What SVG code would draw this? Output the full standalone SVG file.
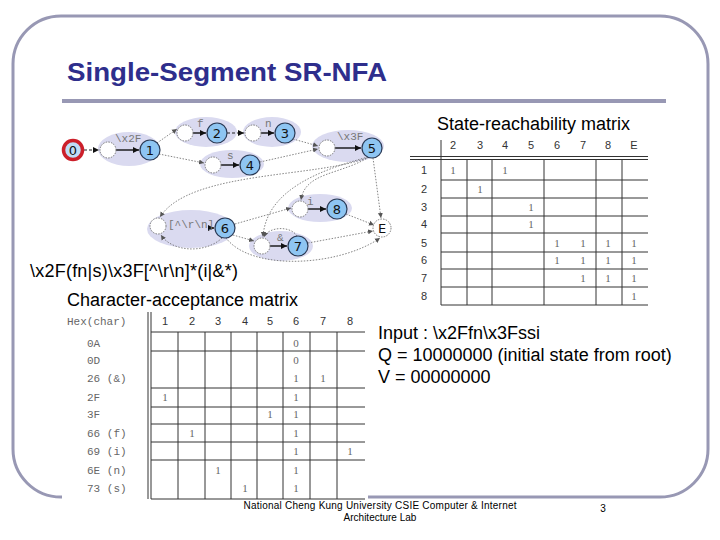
<svg xmlns="http://www.w3.org/2000/svg" width="720" height="540" viewBox="0 0 720 540">
<style>
.frame{fill:none;stroke:#9898B4;stroke-width:3}
.title{font-family:"Liberation Sans",Arial,sans-serif;font-weight:bold;font-size:26px;fill:#2E2E8C}
.body{font-family:"Liberation Sans",Arial,sans-serif;font-size:18px;fill:#000}
.foot{font-family:"Liberation Sans",Arial,sans-serif;font-size:10px;fill:#000}
.grp{fill:#DADAF0}
.st{fill:#8EC5F2;stroke:#2A3A55;stroke-width:1.2}
.em{fill:#fff;stroke:#777;stroke-width:1;stroke-dasharray:1.5 1.2}
.nl{font-family:"DejaVu Sans","Liberation Sans",sans-serif;font-size:13px;fill:#111;text-anchor:middle}
.el{font-family:"Liberation Mono","DejaVu Sans Mono",monospace;font-size:11px;fill:#777}
.ed{fill:none;stroke:#666;stroke-width:0.8;stroke-dasharray:1.5 1.5;marker-end:url(#ah)}
.sd{fill:none;stroke:#111;stroke-width:1.4;marker-end:url(#as)}
.dd{fill:none;stroke:#222;stroke-width:1;stroke-dasharray:3 2;marker-end:url(#as)}
.gl{stroke:#333;stroke-width:1;fill:none}
.th{font-family:"Liberation Sans",Arial,sans-serif;font-size:11px;fill:#333;text-anchor:middle}
.tv{font-family:"Liberation Serif",serif;font-size:11px;fill:#666;text-anchor:middle}
.ml{font-family:"Liberation Mono","DejaVu Sans Mono",monospace;font-size:11px;fill:#666}
</style>
<defs>
<marker id="ah" markerWidth="6" markerHeight="6" refX="5" refY="3" orient="auto" markerUnits="userSpaceOnUse"><path d="M0,0.5 L5,3 L0,5.5 Z" fill="#555"/></marker>
<marker id="as" markerWidth="7" markerHeight="7" refX="6" refY="3.5" orient="auto" markerUnits="userSpaceOnUse"><path d="M0,0.5 L6,3.5 L0,6.5 Z" fill="#111"/></marker>
</defs>
<rect width="720" height="540" fill="#fff"/>
<rect class="frame" x="13" y="16" width="695" height="481" rx="48" ry="48"/>
<text class="title" x="67" y="81" textLength="320" lengthAdjust="spacingAndGlyphs">Single-Segment SR-NFA</text>
<rect x="62" y="99" width="604" height="4" fill="#9898B4"/>

<!-- NFA -->
<g id="groups">
<ellipse class="grp" cx="129" cy="149" rx="31" ry="17"/>
<ellipse class="grp" cx="206" cy="132" rx="31" ry="15"/>
<ellipse class="grp" cx="272" cy="132" rx="29" ry="15"/>
<ellipse class="grp" cx="232" cy="164" rx="32" ry="14"/>
<ellipse class="grp" cx="348" cy="146" rx="36" ry="16"/>
<ellipse class="grp" cx="191" cy="229" rx="44" ry="19"/>
<ellipse class="grp" cx="320" cy="208" rx="32" ry="14"/>
<ellipse class="grp" cx="281" cy="246" rx="32" ry="15"/>
</g>
<g id="connectors">
<path class="dd" d="M84,150 L99,150"/>
<path class="sd" d="M116,150 L139,150"/>
<path class="ed" d="M157,143 L177,129"/>
<path class="sd" d="M193,133 L206,133"/>
<path class="dd" d="M227,133 L244,133"/>
<path class="sd" d="M261,133 L274,133"/>
<path class="ed" d="M159,154 L204,163"/>
<path class="sd" d="M221,165 L239,165"/>
<path class="ed" d="M293,139 L318,146"/>
<path class="ed" d="M260,162 L318,149"/>
<path class="sd" d="M335,148 L361,148"/>
<path class="ed" d="M373,158 L381,218"/>
<path class="ed" d="M369,157 C320,178 190,170 160,217"/>
<path class="ed" d="M369,157 C340,175 305,172 301,200"/>
<path class="ed" d="M368,157 C320,170 266,190 263,237"/>
<path class="sd" d="M208,228 L214,228"/>
<path class="ed" d="M222,238 C205,254 172,252 161,235"/>
<path class="ed" d="M235,224 L291,208"/>
<path class="ed" d="M233,235 L254,241"/>
<path class="ed" d="M226,238 C252,272 340,266 380,238"/>
<path class="ed" d="M297,236 C290,225 268,227 264,237"/>
<path class="sd" d="M270,246 L287,246"/>
<path class="sd" d="M308,209 L326,209"/>
<path class="ed" d="M346,214 L374,225"/>
<path class="ed" d="M308,243 L373,231"/>
</g>
<g id="n0"><circle cx="73" cy="150" r="9.5" fill="#BFDDF7" stroke="#CC1F2A" stroke-width="3.5"/><text class="nl" x="73" y="154.5">0</text></g>
<g id="e1"><circle class="em" cx="108" cy="150" r="8"/></g>
<g id="n1"><circle class="st" cx="150" cy="150" r="10"/><text class="nl" x="150" y="154.5">1</text></g>
<g id="e2"><circle class="em" cx="185" cy="133" r="8"/></g>
<g id="n2"><circle class="st" cx="217" cy="133" r="10"/><text class="nl" x="217" y="137.5">2</text></g>
<g id="e3"><circle class="em" cx="253" cy="133" r="8"/></g>
<g id="n3"><circle class="st" cx="285" cy="133" r="10"/><text class="nl" x="285" y="137.5">3</text></g>
<g id="e4"><circle class="em" cx="213" cy="165" r="8"/></g>
<g id="n4"><circle class="st" cx="250" cy="165" r="10"/><text class="nl" x="250" y="169.5">4</text></g>
<g id="e5"><circle class="em" cx="327" cy="148" r="8"/></g>
<g id="n5"><circle class="st" cx="372" cy="148" r="10"/><text class="nl" x="372" y="152.5">5</text></g>
<g id="e6"><circle class="em" cx="158" cy="226" r="8"/></g>
<g id="n6"><circle class="st" cx="225" cy="228" r="10"/><text class="nl" x="225" y="232.5">6</text></g>
<g id="e8"><circle class="em" cx="300" cy="209" r="8"/></g>
<g id="n8"><circle class="st" cx="337" cy="209" r="10"/><text class="nl" x="337" y="213.5">8</text></g>
<g id="e7"><circle class="em" cx="262" cy="246" r="8"/></g>
<g id="n7"><circle class="st" cx="298" cy="246" r="10"/><text class="nl" x="298" y="250.5">7</text></g>
<g id="nE"><circle class="em" cx="382" cy="228" r="9"/><text class="nl" x="382" y="232.5">E</text></g>
<g id="edge-labels">
<text class="el" x="115" y="142">\x2F</text>
<text class="el" x="197" y="127">f</text>
<text class="el" x="265" y="127">n</text>
<text class="el" x="227" y="159">s</text>
<text class="el" x="337" y="140">\x3F</text>
<text class="el" x="168" y="228" font-size="10">[^\r\n]</text>
<text class="el" x="307" y="205">i</text>
<text class="el" x="277" y="241">&amp;</text>
</g>

<text class="body" x="30" y="277" textLength="208">\x2F(fn|s)\x3F[^\r\n]*(i|&amp;*)</text>

<!-- State-reachability matrix -->
<text class="body" x="437" y="130">State-reachability matrix</text>
<g id="srm">
<text class="th" x="453" y="149">2</text><text class="th" x="480" y="149">3</text><text class="th" x="505" y="149">4</text><text class="th" x="531" y="149">5</text><text class="th" x="557" y="149">6</text><text class="th" x="583" y="149">7</text><text class="th" x="608" y="149">8</text><text class="th" x="634" y="149">E</text>
<path class="gl" d="M441,140 V305 M410,156.5 H648 M410,159.5 H648 M441,180 H648 M441,198 H648 M441,216 H648 M441,233 H648 M441,252 H648 M441,269 H648 M441,287 H648 M441,305 H648 M467,160 V305 M492,160 V305 M544,160 V305 M596,160 V305 M622,160 V305"/>
<text class="th" x="424" y="174">1</text><text class="th" x="424" y="193">2</text><text class="th" x="424" y="211">3</text><text class="th" x="424" y="228">4</text><text class="th" x="424" y="247">5</text><text class="th" x="424" y="264">6</text><text class="th" x="424" y="282">7</text><text class="th" x="424" y="300">8</text>
<text class="tv" x="453" y="174">1</text><text class="tv" x="505" y="174">1</text>
<text class="tv" x="480" y="193">1</text>
<text class="tv" x="531" y="211">1</text>
<text class="tv" x="531" y="228">1</text>
<text class="tv" x="557" y="247">1</text><text class="tv" x="583" y="247">1</text><text class="tv" x="608" y="247">1</text><text class="tv" x="634" y="247">1</text>
<text class="tv" x="557" y="264">1</text><text class="tv" x="583" y="264">1</text><text class="tv" x="608" y="264">1</text><text class="tv" x="634" y="264">1</text>
<text class="tv" x="583" y="282">1</text><text class="tv" x="608" y="282">1</text><text class="tv" x="634" y="282">1</text>
<text class="tv" x="634" y="300">1</text>
</g>

<text class="body" x="67" y="306">Character-acceptance matrix</text>
<!-- Character-acceptance matrix -->
<g id="cam">
<rect x="62" y="311" width="306" height="190" fill="#fff"/>
<text class="ml" x="67" y="325" font-size="14" fill="#555">Hex(char)</text>
<text class="th" x="165" y="325">1</text><text class="th" x="192" y="325">2</text><text class="th" x="218" y="325">3</text><text class="th" x="245" y="325">4</text><text class="th" x="270" y="325">5</text><text class="th" x="296" y="325">6</text><text class="th" x="323" y="325">7</text><text class="th" x="350" y="325">8</text>
<path class="gl" d="M148,312 V499 M151,312 V499 M151,332 H365 M151,351 H365 M151,388 H365 M151,407 H365 M151,424 H365 M151,442 H365 M151,460 H365 M151,499 H365 M178,332 V499 M205,332 V499 M231,332 V499 M257,332 V499 M283,332 V499 M310,332 V499 M337,332 V499"/>
<text class="ml" x="87" y="347">0A</text>
<text class="ml" x="87" y="364">0D</text>
<text class="ml" x="87" y="382">26 (&amp;)</text>
<text class="ml" x="87" y="401">2F</text>
<text class="ml" x="87" y="418">3F</text>
<text class="ml" x="87" y="437">66 (f)</text>
<text class="ml" x="87" y="455">69 (i)</text>
<text class="ml" x="87" y="474">6E (n)</text>
<text class="ml" x="87" y="492">73 (s)</text>
<text class="tv" x="296" y="347">0</text>
<text class="tv" x="296" y="364">0</text>
<text class="tv" x="296" y="382">1</text><text class="tv" x="323" y="382">1</text>
<text class="tv" x="165" y="401">1</text><text class="tv" x="296" y="401">1</text>
<text class="tv" x="270" y="418">1</text><text class="tv" x="296" y="418">1</text>
<text class="tv" x="192" y="437">1</text><text class="tv" x="296" y="437">1</text>
<text class="tv" x="296" y="455">1</text><text class="tv" x="350" y="455">1</text>
<text class="tv" x="218" y="474">1</text><text class="tv" x="296" y="474">1</text>
<text class="tv" x="245" y="492">1</text><text class="tv" x="296" y="492">1</text>
</g>

<text class="body" x="378" y="339">Input : \x2Ffn\x3Fssi</text>
<text class="body" x="378" y="361">Q = 10000000 (initial state from root)</text>
<text class="body" x="378" y="383">V = 00000000</text>

<text class="foot" x="380" y="509" text-anchor="middle" textLength="273">National Cheng Kung University CSIE Computer &amp; Internet</text>
<text class="foot" x="380" y="521" text-anchor="middle">Architecture Lab</text>
<text class="foot" x="603" y="512" text-anchor="middle">3</text>
</svg>
